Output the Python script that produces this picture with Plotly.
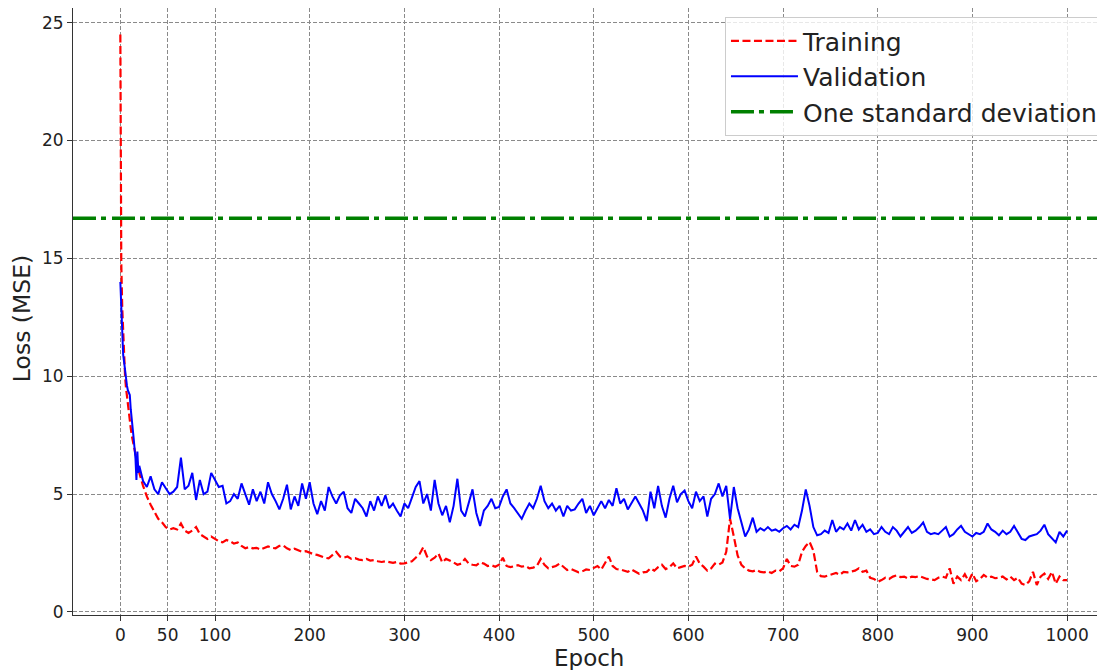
import plotly.graph_objects as go

# ---- data ----
early_epochs = list(range(0, 20))
train_early = [24.5, 14.8, 12.9, 11.6, 10.7, 10.0, 9.5, 9.1, 8.7, 8.4,
               8.1, 7.8, 7.5, 7.3, 7.05, 6.85, 6.65, 6.45, 6.25, 6.05]
val_early = [14.0, 12.8, 11.2, 10.9, 10.6, 10.2, 9.9, 9.6, 9.4, 9.3,
             9.2, 8.6, 8.3, 7.8, 7.4, 6.9, 6.5, 5.6, 6.8, 5.9]

# epochs 20, 24, ..., 1000
train_rest = [
    5.9, 5.35, 4.9, 4.55, 4.25, 3.95, 3.8, 3.6, 3.5, 3.55,        # 20-56
    3.5, 3.75, 3.45, 3.35, 3.45, 3.6, 3.3, 3.2, 3.1, 3.2,         # 60-96
    3.1, 3.0, 2.95, 3.05, 3.0, 2.9, 2.95, 2.8, 2.7, 2.75,         # 100-136
    2.7, 2.72, 2.65, 2.7, 2.78, 2.72, 2.7, 2.8, 2.82, 2.7,        # 140-176
    2.62, 2.68, 2.6, 2.55, 2.58, 2.5, 2.45, 2.42, 2.35, 2.3,      # 180-216
    2.27, 2.4, 2.55, 2.35, 2.3, 2.35, 2.25, 2.28, 2.22, 2.2,      # 220-256
    2.25, 2.18, 2.2, 2.15, 2.12, 2.15, 2.1, 2.08, 2.12, 2.05,     # 260-296
    2.06, 2.1, 2.15, 2.3, 2.45, 2.75, 2.35, 2.2, 2.3, 2.48,       # 300-336
    2.1, 2.25, 2.18, 2.1, 2.0, 2.05, 2.25, 2.05, 2.0, 1.98,       # 340-376
    2.1, 2.05, 1.95, 1.98, 1.92, 2.0, 2.3, 1.95, 1.9, 1.95,       # 380-416
    1.98, 1.92, 1.95, 1.85, 1.88, 1.95, 2.25, 2.0, 1.85, 1.9,     # 420-456
    1.95, 2.05, 1.9, 1.78, 1.82, 1.75, 1.68, 1.72, 1.8, 1.78,     # 460-496
    1.85, 1.95, 1.8, 2.1, 2.35, 1.95, 1.82, 1.8, 1.75, 1.7,       # 500-536
    1.8, 1.72, 1.62, 1.68, 1.7, 1.85, 1.75, 1.9, 2.0, 1.82,       # 540-576
    1.9, 2.06, 1.85, 1.9, 1.95, 1.92, 2.0, 2.35, 2.05, 1.92,      # 580-616
    1.75, 1.85, 2.05, 2.0, 2.1, 2.55, 3.95, 3.2, 2.4, 2.0,        # 620-656
    1.85, 1.75, 1.72, 1.78, 1.7, 1.68, 1.72, 1.65, 1.75, 1.72,    # 660-696
    1.85, 2.25, 1.95, 1.92, 2.0, 2.55, 2.8, 2.97, 2.6, 1.7,       # 700-736
    1.52, 1.5, 1.55, 1.6, 1.65, 1.58, 1.7, 1.68, 1.72, 1.75,      # 740-776
    1.85, 1.7, 1.75, 1.45, 1.4, 1.28, 1.35, 1.45, 1.4, 1.5,       # 780-816
    1.55, 1.48, 1.5, 1.42, 1.5, 1.48, 1.52, 1.45, 1.4, 1.38,      # 820-856
    1.35, 1.45, 1.5, 1.45, 1.85, 1.2, 1.5, 1.35, 1.6, 1.3,        # 860-896
    1.63, 1.3, 1.4, 1.57, 1.45, 1.5, 1.43, 1.45, 1.5, 1.38,       # 900-936
    1.5, 1.35, 1.45, 1.2, 1.14, 1.3, 1.7, 1.14, 1.5, 1.63,        # 940-976
    1.4, 1.7, 1.2, 1.5, 1.35, 1.35,                               # 980-1000
]
val_rest = [
    6.2, 5.55, 5.3, 5.75, 5.2, 5.0, 5.5, 5.25, 5.0, 5.1,          # 20-56
    5.3, 6.55, 5.2, 5.35, 5.9, 4.75, 5.6, 5.0, 5.1, 5.9,          # 60-96
    5.6, 5.3, 5.35, 4.6, 4.7, 5.0, 4.8, 5.45, 5.0, 4.55,          # 100-136
    5.2, 4.7, 5.1, 4.6, 5.5, 5.0, 4.7, 4.35, 4.8, 5.4,            # 140-176
    4.35, 4.9, 4.5, 5.45, 4.8, 5.5, 4.6, 4.15, 4.7, 4.3,          # 180-216
    5.3, 4.9, 4.6, 4.95, 5.1, 4.4, 4.2, 4.8, 4.6, 4.4,            # 220-256
    4.05, 4.7, 4.3, 4.9, 4.5, 4.95, 4.4, 4.6, 4.3, 4.05,          # 260-296
    4.6, 4.4, 4.85, 5.3, 5.55, 4.6, 5.0, 4.3, 5.6, 4.6,           # 300-336
    4.1, 4.5, 3.8, 4.5, 5.65, 4.3, 4.05, 4.6, 5.2, 4.2,           # 340-376
    3.65, 4.3, 4.5, 4.8, 4.4, 4.45, 4.9, 5.2, 4.6, 4.4,           # 380-416
    4.15, 3.95, 4.3, 4.6, 4.4, 4.8, 5.35, 4.7, 4.4, 4.6,          # 420-456
    4.3, 4.5, 4.05, 4.5, 4.3, 4.35, 4.6, 4.8, 4.2, 4.5,           # 460-496
    4.1, 4.4, 4.7, 4.4, 4.75, 4.5, 5.25, 4.6, 4.8, 4.35,          # 500-536
    4.6, 4.9, 4.6, 4.3, 3.85, 5.1, 4.4, 5.35, 4.5, 4.0,           # 540-576
    4.8, 5.35, 4.65, 5.0, 5.15, 4.7, 4.4, 5.1, 4.7, 4.9,          # 580-616
    4.05, 4.8, 5.0, 5.45, 4.9, 5.35, 3.95, 5.3, 4.4, 3.8,         # 620-656
    3.2, 3.5, 4.0, 3.4, 3.55, 3.45, 3.6, 3.45, 3.5, 3.4,          # 660-696
    3.55, 3.65, 3.5, 3.7, 3.6, 4.3, 5.2, 4.5, 3.6, 3.25,          # 700-736
    3.3, 3.45, 3.35, 3.9, 3.4, 3.6, 3.5, 3.75, 3.45, 3.9,         # 740-776
    3.5, 3.7, 3.4, 3.5, 3.3, 3.35, 3.6, 3.4, 3.3, 3.6,            # 780-816
    3.45, 3.2, 3.4, 3.6, 3.35, 3.45, 3.6, 3.8, 3.4, 3.3,          # 820-856
    3.35, 3.3, 3.45, 3.6, 3.2, 3.3, 3.5, 3.65, 3.4, 3.3,          # 860-896
    3.2, 3.35, 3.3, 3.4, 3.75, 3.5, 3.4, 3.25, 3.45, 3.3,         # 900-936
    3.4, 3.65, 3.4, 3.1, 3.05, 3.2, 3.25, 3.3, 3.45, 3.7,         # 940-976
    3.3, 3.1, 2.95, 3.4, 3.2, 3.45,                               # 980-1000
]
rest_epochs = list(range(20, 1001, 4))

epochs = early_epochs + rest_epochs
training = train_early + train_rest
validation = val_early + val_rest
one_std = 16.7

x_ticks = [0, 50, 100, 200, 300, 400, 500, 600, 700, 800, 900, 1000]
y_ticks = [0, 5, 10, 15, 20, 25]

FONT = "DejaVu Sans"
TXT = "#222222"
DASHDOT = "23px,5px,5px,6px"

fig = go.Figure()
fig.add_trace(go.Scatter(
    x=epochs, y=training, mode="lines", name="Training", legendgroup="a",
    line=dict(color="red", width=2.2, dash="8px,3.5px"),
))
fig.add_trace(go.Scatter(
    x=epochs, y=validation, mode="lines", name="Validation", legendgroup="b",
    line=dict(color="blue", width=2),
))
# legend entry for the horizontal line
fig.add_trace(go.Scatter(
    x=[None], y=[None], mode="lines", name="One standard deviation", legendgroup="c",
    line=dict(color="green", width=3.5, dash=DASHDOT),
))
fig.add_hline(y=one_std, line=dict(color="green", width=3.5, dash=DASHDOT))

axis_common = dict(
    showgrid=True, gridcolor="#8a8a8a", gridwidth=1, griddash="4px,2px",
    showline=True, linecolor="#333333", linewidth=1, mirror=True,
    ticks="outside", ticklen=5, tickwidth=1, tickcolor="#333333",
    tickfont=dict(family=FONT, size=17, color=TXT),
    zeroline=False, automargin=False,
)

# page body has an 8px margin, so the figure is sized to end at the window edge
fig.update_layout(
    width=1097, height=662,
    margin=dict(l=65, r=1, t=0, b=55, autoexpand=False),
    paper_bgcolor="white", plot_bgcolor="white",
    font=dict(family=FONT, color=TXT),
    xaxis=dict(
        range=[-50, 1039], tickmode="array", tickvals=x_ticks,
        ticktext=[str(v) for v in x_ticks],
        **axis_common,
    ),
    yaxis=dict(
        range=[-0.13, 25.62], tickmode="array", tickvals=y_ticks,
        ticktext=[str(v) for v in y_ticks],
        **axis_common,
    ),
    legend=dict(
        x=0.999, y=0.985, xanchor="right", yanchor="top",
        bgcolor="rgba(255,255,255,0.8)", bordercolor="#cccccc", borderwidth=1,
        font=dict(family=FONT, size=25, color=TXT),
        itemwidth=67, traceorder="grouped", tracegroupgap=0,
    ),
    showlegend=True,
    annotations=[
        dict(text="Epoch", xref="paper", yref="paper", x=0.5, y=-0.0705,
             xanchor="center", yanchor="middle", showarrow=False,
             font=dict(family=FONT, size=23, color=TXT)),
        dict(text="Loss (MSE)", xref="paper", yref="paper", x=-0.0495, y=0.489,
             xanchor="center", yanchor="middle", showarrow=False, textangle=-90,
             font=dict(family=FONT, size=23.5, color=TXT)),
    ],
)

fig.write_html("out.html")
